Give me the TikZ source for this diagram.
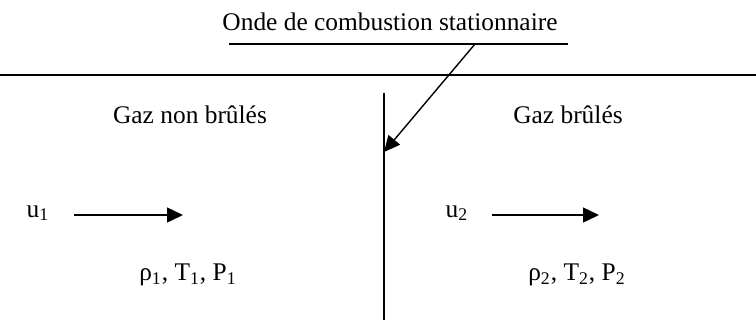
\documentclass[tikz,border=0pt]{standalone}
\usepackage{fontspec}
\setmainfont{Liberation Serif}
\usetikzlibrary{arrows.meta, positioning}
\tikzset{
  txt/.style={inner sep=1pt, font=\fontsize{12.7}{15}\selectfont},
  rule/.style={line width=0.7pt},
  flow/.style={-{Triangle[length=8pt, width=7.5pt]}, line width=0.7pt},
}

\begin{document}
\begin{tikzpicture}[x=0.5pt, y=-0.5pt]
  \useasboundingbox (0,0) rectangle (756,334);
  % title and its underline
  \node[txt] (title) at (390,22) {Onde de combustion stationnaire};
  \coordinate (ul) at (229,44);
  \coordinate (ur) at (568,44);
  \draw[rule] (ul) -- (ur);
  % wall and flame front
  \coordinate (wl) at (0,75);
  \coordinate (wr) at (756,75);
  \draw[rule] (wl) -- (wr);
  \coordinate (ft) at (384,93);
  \coordinate (fb) at (384,320);
  \draw[rule] (ft) -- (fb);
  \coordinate (lead) at (475,44);
  \coordinate (tip) at (384,152);
  \draw[flow] (lead) -- (tip);
  % zones
  \node[txt] (cold) at (190,115) {Gaz non brûlés};
  \node[txt] (hot) at (568,115) {Gaz brûlés};
  % velocities
  \node[txt] (u1) at (38,213) {u\textsubscript{1}};
  \coordinate (a1s) at (74,215);
  \coordinate (a1e) at (183,215);
  \draw[flow] (a1s) -- (a1e);
  \node[txt] (u2) at (457,213) {u\textsubscript{2}};
  \coordinate (a2s) at (492,215);
  \coordinate (a2e) at (599,215);
  \draw[flow] (a2s) -- (a2e);
  % states
  \node[txt] (s1) at (188,275) {ρ\textsubscript{1}, T\textsubscript{1}, P\textsubscript{1}};
  \node[txt] (s2) at (577,275) {ρ\textsubscript{2}, T\textsubscript{2}, P\textsubscript{2}};
\end{tikzpicture}
\end{document}
